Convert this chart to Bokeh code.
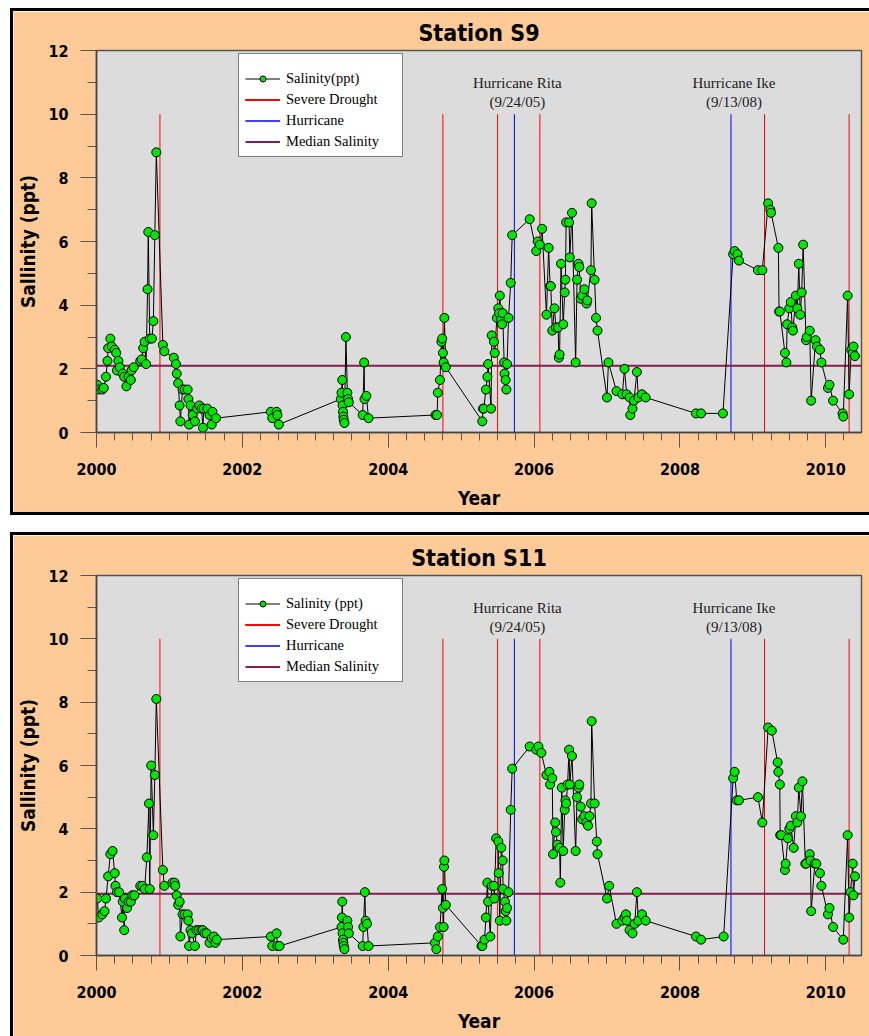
from bokeh.plotting import figure
from bokeh.layouts import column, row
from bokeh.models import Legend, LegendItem, SingleIntervalTicker, Range1d, Spacer
from bokeh.core.properties import value
from bokeh.embed import file_html
from bokeh.resources import INLINE

# ---------------- data ----------------
s9_year = [2000.01, 2000.03, 2000.08, 2000.10, 2000.13, 2000.15, 2000.16, 2000.19, 2000.21, 2000.25,
           2000.27, 2000.28, 2000.30, 2000.32, 2000.36, 2000.38, 2000.41, 2000.44, 2000.47, 2000.48,
           2000.51, 2000.60, 2000.62, 2000.64, 2000.66, 2000.68, 2000.70, 2000.71, 2000.73, 2000.76,
           2000.78, 2000.80, 2000.82, 2000.91, 2000.93, 2001.06, 2001.09, 2001.10, 2001.12, 2001.14,
           2001.15, 2001.18, 2001.21, 2001.25, 2001.26, 2001.27, 2001.29, 2001.32, 2001.35, 2001.38,
           2001.41, 2001.44, 2001.46, 2001.47, 2001.52, 2001.55, 2001.58, 2001.59, 2001.64,
           2002.39, 2002.41, 2002.47, 2002.48, 2002.50,
           2003.35, 2003.36, 2003.37, 2003.375, 2003.38, 2003.385, 2003.39, 2003.40, 2003.42, 2003.44,
           2003.45, 2003.46, 2003.65, 2003.67, 2003.675, 2003.70, 2003.73,
           2004.65, 2004.67, 2004.68, 2004.71, 2004.73, 2004.74, 2004.75, 2004.76, 2004.77, 2004.79,
           2005.29, 2005.30, 2005.31, 2005.34, 2005.36, 2005.37, 2005.41, 2005.42, 2005.45, 2005.46,
           2005.49, 2005.51, 2005.52, 2005.53, 2005.55, 2005.56, 2005.57, 2005.59, 2005.595, 2005.61,
           2005.62, 2005.63, 2005.65, 2005.68, 2005.70, 2005.94, 2006.03, 2006.05, 2006.08, 2006.11,
           2006.17, 2006.20, 2006.22, 2006.23, 2006.25, 2006.28, 2006.30, 2006.33, 2006.34, 2006.35,
           2006.37, 2006.40, 2006.42, 2006.43, 2006.44, 2006.48, 2006.49, 2006.52, 2006.57, 2006.59,
           2006.61, 2006.62, 2006.64, 2006.66, 2006.69, 2006.72, 2006.73, 2006.78, 2006.79, 2006.83,
           2006.85, 2006.87, 2007.00, 2007.02, 2007.13, 2007.21, 2007.24, 2007.27, 2007.31, 2007.32,
           2007.35, 2007.37, 2007.41, 2007.43, 2007.48, 2007.53,
           2008.22, 2008.29, 2008.59, 2008.73, 2008.75, 2008.79, 2008.81, 2009.07, 2009.13, 2009.21,
           2009.24, 2009.25, 2009.35, 2009.36, 2009.37, 2009.44, 2009.46, 2009.47, 2009.50, 2009.52,
           2009.54, 2009.55, 2009.59, 2009.61, 2009.63, 2009.65, 2009.67, 2009.69, 2009.73, 2009.74,
           2009.78, 2009.80, 2009.86, 2009.88, 2009.92, 2009.94, 2010.03, 2010.05, 2010.10, 2010.23,
           2010.24, 2010.30, 2010.32, 2010.35, 2010.37, 2010.38, 2010.40]
s9_sal = [1.5, 1.35, 1.35, 1.4, 1.75, 2.25, 2.65, 2.95, 2.7, 2.6,
          2.5, 1.95, 2.25, 2.05, 1.85, 1.75, 1.45, 1.75, 1.65, 1.95,
          2.05, 2.25, 2.3, 2.65, 2.85, 2.15, 4.5, 6.3, 2.95, 2.95,
          3.5, 6.2, 8.8, 2.75, 2.55, 2.35, 2.15, 1.85, 1.55, 0.85,
          0.35, 1.35, 1.35, 1.35, 1.05, 0.25, 0.85, 0.55, 0.35, 0.75,
          0.85, 0.75, 0.15, 0.75, 0.75, 0.55, 0.25, 0.65, 0.45,
          0.65, 0.45, 0.65, 0.55, 0.25,
          1.05, 1.25, 1.65, 0.85, 0.65, 0.5, 0.4, 0.3, 3.0, 1.25,
          1.05, 0.95, 0.55, 2.2, 1.05, 1.15, 0.45,
          0.55, 0.55, 1.25, 1.65, 2.85, 2.95, 2.5, 2.2, 3.6, 2.05,
          0.35, 0.75, 0.75, 1.35, 1.75, 2.15, 0.75, 3.05, 2.85, 2.5,
          3.6, 3.9, 3.75, 4.3, 3.55, 3.4, 3.75, 2.2, 1.85, 1.65,
          1.35, 2.15, 3.6, 4.7, 6.2, 6.7, 5.7, 6.0, 5.9, 6.4,
          3.7, 5.8, 4.6, 4.6, 3.2, 3.9, 3.3, 3.3, 2.35, 2.45,
          5.3, 3.4, 4.4, 4.8, 6.6, 6.6, 5.5, 6.9, 2.2, 4.8,
          5.3, 5.2, 4.2, 4.3, 4.5, 4.05, 4.15, 5.1, 7.2, 4.8,
          3.6, 3.2, 1.1, 2.2, 1.3, 1.2, 2.0, 1.2, 1.1, 0.55,
          0.75, 1.0, 1.9, 1.1, 1.2, 1.1,
          0.6, 0.6, 0.6, 5.6, 5.7, 5.6, 5.4, 5.1, 5.1, 7.2,
          7.0, 6.9, 5.8, 3.8, 3.8, 2.5, 2.2, 3.4, 3.9, 4.1,
          3.3, 3.2, 4.3, 3.9, 5.3, 3.7, 4.4, 5.9, 2.9, 3.0,
          3.2, 1.0, 2.9, 2.7, 2.6, 2.2, 1.4, 1.5, 1.0, 0.6,
          0.5, 4.3, 1.2, 2.6, 2.5, 2.7, 2.4]

s11_year = [2000.01, 2000.03, 2000.08, 2000.11, 2000.13, 2000.16, 2000.19, 2000.22, 2000.25, 2000.26,
            2000.28, 2000.31, 2000.35, 2000.36, 2000.38, 2000.39, 2000.42, 2000.44, 2000.47, 2000.49,
            2000.52, 2000.60, 2000.63, 2000.66, 2000.69, 2000.72, 2000.73, 2000.75, 2000.78, 2000.80,
            2000.82, 2000.91, 2000.93, 2001.04, 2001.07, 2001.08, 2001.10, 2001.12, 2001.14, 2001.15,
            2001.18, 2001.21, 2001.25, 2001.26, 2001.27, 2001.29, 2001.31, 2001.35, 2001.37, 2001.40,
            2001.44, 2001.46, 2001.48, 2001.51, 2001.55, 2001.58, 2001.61, 2001.63, 2001.65,
            2002.39, 2002.41, 2002.47, 2002.48, 2002.51,
            2003.36, 2003.365, 2003.37, 2003.375, 2003.38, 2003.385, 2003.39, 2003.40, 2003.44, 2003.45,
            2003.46, 2003.65, 2003.66, 2003.68, 2003.69, 2003.71, 2003.73,
            2004.64, 2004.66, 2004.68, 2004.71, 2004.74, 2004.75, 2004.76, 2004.765, 2004.77, 2004.79,
            2005.28, 2005.29, 2005.32, 2005.34, 2005.36, 2005.37, 2005.40, 2005.42, 2005.45, 2005.455,
            2005.48, 2005.51, 2005.515, 2005.53, 2005.55, 2005.57, 2005.575, 2005.60, 2005.61, 2005.62,
            2005.63, 2005.65, 2005.68, 2005.70, 2005.94, 2006.03, 2006.06, 2006.10, 2006.17, 2006.21,
            2006.22, 2006.25, 2006.26, 2006.29, 2006.30, 2006.32, 2006.35, 2006.36, 2006.38, 2006.40,
            2006.42, 2006.43, 2006.44, 2006.46, 2006.48, 2006.49, 2006.52, 2006.57, 2006.59, 2006.61,
            2006.62, 2006.64, 2006.66, 2006.69, 2006.72, 2006.74, 2006.76, 2006.78, 2006.79, 2006.83,
            2006.86, 2006.87, 2007.00, 2007.03, 2007.13, 2007.21, 2007.24, 2007.26, 2007.27, 2007.31,
            2007.35, 2007.38, 2007.41, 2007.43, 2007.48, 2007.53,
            2008.22, 2008.29, 2008.60, 2008.73, 2008.75, 2008.78, 2008.81, 2009.07, 2009.13, 2009.21,
            2009.26, 2009.34, 2009.35, 2009.37, 2009.375, 2009.39, 2009.44, 2009.45, 2009.48, 2009.50,
            2009.52, 2009.56, 2009.59, 2009.61, 2009.63, 2009.66, 2009.68, 2009.72, 2009.73, 2009.78,
            2009.79, 2009.80, 2009.85, 2009.87, 2009.92, 2009.94, 2010.03, 2010.05, 2010.10, 2010.24,
            2010.30, 2010.32, 2010.34, 2010.37, 2010.38, 2010.40]
s11_sal = [1.8, 1.2, 1.3, 1.4, 1.8, 2.5, 3.2, 3.3, 2.6, 2.2,
           2.0, 2.0, 1.2, 1.7, 0.8, 1.8, 1.5, 1.7, 1.7, 1.9,
           1.9, 2.2, 2.2, 2.1, 3.1, 4.8, 2.1, 6.0, 3.8, 5.7,
           8.1, 2.7, 2.2, 2.3, 2.3, 2.2, 1.9, 1.6, 1.7, 0.6,
           1.3, 1.3, 1.3, 1.1, 0.3, 0.8, 0.7, 0.3, 0.8, 0.8,
           0.8, 0.8, 0.7, 0.7, 0.4, 0.55, 0.6, 0.4, 0.5,
           0.6, 0.3, 0.7, 0.3, 0.3,
           0.9, 1.2, 1.7, 0.7, 0.5, 0.4, 0.3, 0.2, 1.1, 0.9,
           0.7, 0.3, 0.9, 2.0, 1.1, 1.0, 0.3,
           0.4, 0.2, 0.6, 0.9, 2.1, 1.5, 0.9, 2.8, 3.0, 1.6,
           0.3, 0.3, 0.5, 1.2, 2.3, 1.7, 0.6, 2.2, 2.2, 1.8,
           3.7, 3.6, 2.6, 1.1, 3.4, 3.0, 2.1, 1.7, 1.4, 1.1,
           1.5, 2.0, 4.6, 5.9, 6.6, 6.5, 6.6, 6.4, 5.7, 5.8,
           5.4, 5.6, 3.2, 4.2, 3.9, 3.5, 3.4, 2.3, 5.3, 3.3,
           4.6, 4.9, 4.8, 5.4, 6.5, 5.4, 6.3, 3.3, 5.0, 5.3,
           5.4, 4.7, 4.3, 4.4, 4.2, 4.1, 4.4, 4.8, 7.4, 4.8,
           3.6, 3.2, 1.8, 2.2, 1.0, 1.1, 1.2, 1.3, 1.1, 0.8,
           0.7, 1.0, 2.0, 1.1, 1.3, 1.1,
           0.6, 0.5, 0.6, 5.6, 5.8, 4.9, 4.9, 5.0, 4.2, 7.2,
           7.1, 6.1, 5.8, 5.4, 3.8, 3.8, 2.7, 2.9, 3.7, 4.0,
           4.1, 3.4, 4.4, 4.2, 5.3, 4.4, 5.5, 2.9, 2.9, 3.2,
           3.0, 1.4, 2.9, 2.9, 2.6, 2.2, 1.3, 1.5, 0.9, 0.5,
           3.8, 1.2, 2.0, 2.9, 1.9, 2.5]

drought_dates = [2000.87, 2004.75, 2005.50, 2006.08, 2009.16, 2010.32]
hurricane_dates = [2005.73, 2008.70]
hurricane_names = ["Hurricane Rita", "Hurricane Ike"]
hurricane_days = ["(9/24/05)", "(9/13/08)"]
s9_median = 2.1
s11_median = 1.95
event_top = 10
x_start, x_end = 2000, 2010.49

ORANGE = "#FECB98"
SANS = "DejaVu Sans Condensed, DejaVu Sans"
SERIF = "Liberation Serif"
W = 859


def panel(title, years, sal, median, sal_label, height, top, bottom, legend_y, border_styles):
    p = figure(width=W, height=height, output_backend="svg", toolbar_location=None,
               x_range=Range1d(x_start, x_end), y_range=Range1d(0, 12),
               min_border_left=83, min_border_right=11, min_border_top=top,
               min_border_bottom=bottom,
               background_fill_color="#DCDCDC", border_fill_color=ORANGE,
               outline_line_color="#555555", outline_line_width=1.5)
    p.styles = border_styles
    p.xgrid.visible = False
    p.ygrid.visible = False

    p.title.text = title
    p.title.align = "center"
    p.title.text_font = SANS
    p.title.text_font_style = "bold"
    p.title.text_font_size = "23px"
    p.title.text_color = "black"

    for ax in (p.xaxis[0], p.yaxis[0]):
        ax.axis_line_color = "#444444"
        ax.axis_line_width = 1.5
        ax.major_tick_line_color = "#555555"
        ax.minor_tick_line_color = "#555555"
        ax.major_tick_in = 0
        ax.minor_tick_in = 0
        ax.major_label_text_font = SANS
        ax.major_label_text_font_style = "bold"
        ax.major_label_text_font_size = "16px"
        ax.major_label_text_color = "black"
        ax.axis_label_text_font = SANS
        ax.axis_label_text_font_style = "bold"
        ax.axis_label_text_font_size = "19px"
        ax.axis_label_text_color = "black"

    p.xaxis.ticker = SingleIntervalTicker(interval=2, num_minor_ticks=8)
    p.xaxis.major_tick_out = 15
    p.xaxis.minor_tick_out = 8
    p.xaxis.major_label_standoff = 15
    p.xaxis.axis_label = "Year"
    p.xaxis.axis_label_standoff = 9

    p.yaxis.ticker = SingleIntervalTicker(interval=2, num_minor_ticks=2)
    p.yaxis.major_tick_out = 16
    p.yaxis.minor_tick_out = 9
    p.yaxis.major_label_standoff = 12
    p.yaxis.axis_label = "Sallinity (ppt)"
    p.yaxis.axis_label_standoff = 6

    dr_renderers = [p.line(x=[d, d], y=[0, event_top], line_color="#FF0000", line_width=1)
                    for d in drought_dates]
    hu_renderers = [p.line(x=[d, d], y=[0, event_top], line_color="#0000FF", line_width=1)
                    for d in hurricane_dates]
    r_med = p.line(x=[x_start, x_end], y=[median, median], line_color="#8B1A50",
                   line_width=2)

    r_line = p.line(years, sal, line_color="black", line_width=1)
    r_pts = p.scatter(years, sal, size=9, fill_color="#00E600", line_color="black",
                      line_width=1)

    p.text(x=hurricane_dates, y=[event_top] * 2, text=hurricane_names, x_offset=3,
           y_offset=-31, text_align="center", text_baseline="middle",
           text_font=value(SERIF), text_font_size="15px", text_color="#222222")
    p.text(x=hurricane_dates, y=[event_top] * 2, text=hurricane_days, x_offset=3,
           y_offset=-12, text_align="center", text_baseline="middle",
           text_font=value(SERIF), text_font_size="15px", text_color="#222222")

    legend = Legend(items=[
        LegendItem(label=sal_label, renderers=[r_line, r_pts]),
        LegendItem(label="Severe Drought", renderers=dr_renderers),
        LegendItem(label="Hurricane", renderers=hu_renderers),
        LegendItem(label="Median Salinity", renderers=[r_med]),
    ], location=(142, legend_y))
    legend.title = " "
    legend.title_text_font_size = "6px"
    legend.title_standoff = 4
    legend.border_line_color = "black"
    legend.border_line_width = 1
    legend.background_fill_color = "white"
    legend.background_fill_alpha = 1
    legend.label_text_font = SERIF
    legend.label_text_font_size = "14.5px"
    legend.label_text_color = "black"
    legend.glyph_width = 35
    legend.glyph_height = 15
    legend.label_height = 15
    legend.spacing = 4
    legend.padding = 6
    legend.margin = 0
    legend.label_standoff = 6
    legend.label_width = 110
    p.add_layout(legend)
    return p


top_border = {"border-top": "3px solid black", "border-left": "3px solid black",
              "border-bottom": "3px solid black"}
bottom_border = {"border-top": "3px solid black", "border-left": "3px solid black"}

p1 = panel("Station S9", s9_year, s9_sal, s9_median, "Salinity(ppt)", 507, 39, 86, 275,
           top_border)
p2 = panel("Station S11", s11_year, s11_sal, s11_median, "Salinity (ppt)", 504, 40, 84, 273,
           bottom_border)

layout = column(Spacer(height=8),
                row(Spacer(width=10), p1),
                Spacer(height=17),
                row(Spacer(width=10), p2))
open("out.html", "w").write(file_html(layout, INLINE))
